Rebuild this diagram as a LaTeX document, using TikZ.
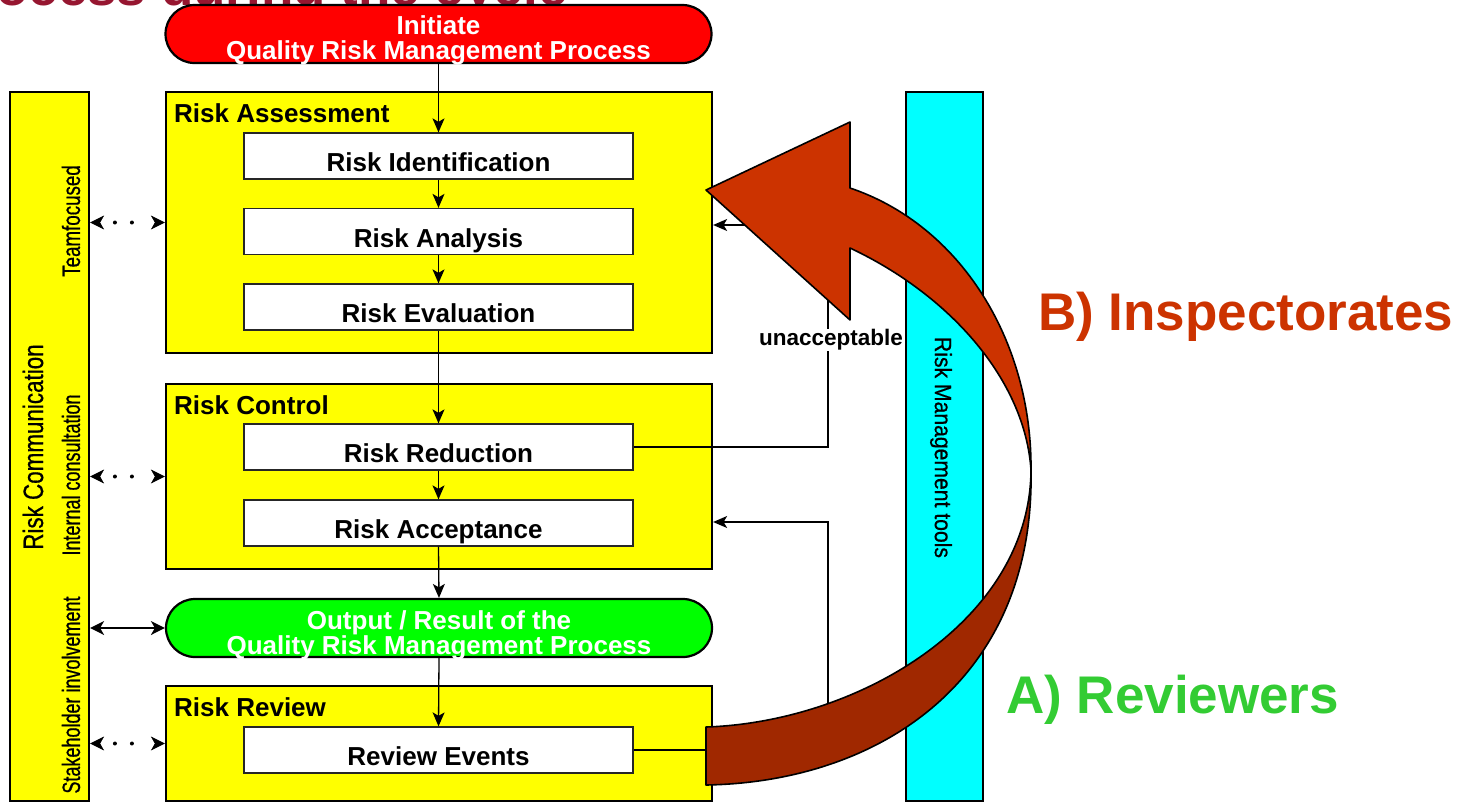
\documentclass[tikz,border=0pt]{standalone}
\usepackage{fontspec}
\setmainfont{Liberation Sans}
\newfontfamily\heavysans{Liberation Sans}[FakeBold=0.7]
\usetikzlibrary{arrows.meta}
\definecolor{boxyellow}{RGB}{255,255,0}
\definecolor{toolcyan}{RGB}{0,255,255}
\definecolor{startred}{RGB}{255,0,0}
\definecolor{endgreen}{RGB}{0,255,0}
\definecolor{titlered}{RGB}{150,22,48}
\definecolor{arrowlight}{RGB}{204,51,0}
\definecolor{arrowdark}{RGB}{160,40,0}
\definecolor{insptext}{RGB}{204,51,0}
\definecolor{revtext}{RGB}{51,204,51}
\begin{document}
\begin{tikzpicture}[x=1pt,y=-1pt,
  group/.style={draw=black, line width=2.2pt, fill=boxyellow, minimum width=546pt, inner sep=0pt},
  grouptitle/.style={anchor=base west, inner sep=0pt, font=\fontsize{26}{26}\selectfont\bfseries},
  stepbox/.style={draw=black!85, line width=1.3pt, fill=white, minimum width=389pt, minimum height=46pt, inner sep=0pt,
    text height=31pt, text depth=0pt, font=\fontsize{26}{26}\selectfont\bfseries},
  terminal/.style={draw=black, line width=2.2pt, rounded corners=29pt, minimum width=546pt, minimum height=58pt, inner sep=0pt},
  termtext/.style={inner sep=0pt, text=white, align=center, font=\fontsize{26}{25}\selectfont\bfseries},
  sidebar/.style={draw=black, line width=2.2pt, minimum height=709pt, inner sep=0pt},
  sidetext/.style={inner sep=0pt, font=\heavysans\fontsize{25}{25}\selectfont},
  flow/.style={line width=1.3pt, -{Stealth[length=14pt,width=12pt,inset=3.5pt]}},
  dotarrow/.style={line width=4pt, line cap=round, dash pattern=on 0pt off 17pt on 0pt off 60pt, dash phase=62pt,
    {Stealth[length=14pt,width=14pt,inset=4pt,line width=0.5pt]}-{Stealth[length=14pt,width=14pt,inset=4pt,line width=0.5pt]}},
  solidarrow/.style={line width=1.5pt,
    {Stealth[length=14pt,width=14pt,inset=4pt]}-{Stealth[length=14pt,width=14pt,inset=4pt]}},
  bigarrow/.style={draw=black, line width=1.6pt, line join=round}
]
\useasboundingbox (0,0) rectangle (1472,804);
\clip (0,0) rectangle (1472,804);
\fill[white] (0,0) rectangle (1472,804);

% heading, cut at the top edge
\node[anchor=base west, inner sep=0pt, text=titlered, font=\fontsize{53}{53}\selectfont\bfseries] (heading) at (-4,5) {ocess during the cycle};

% side bars
\node[sidebar, fill=boxyellow, minimum width=79pt] (comm) at (49.5,446.5) {};
\node[sidetext, rotate=90, font=\heavysans\fontsize{28}{28}\selectfont] (commtxt) at (33,447) {\scalebox{0.8}[1]{Risk Communication}};
\node[sidetext, rotate=90] (team) at (71,221) {\scalebox{0.75}[1]{Teamfocused}};
\node[sidetext, rotate=90] (intern) at (71,475) {\scalebox{0.72}[1]{Internal consultation}};
\node[sidetext, rotate=90] (stake) at (71,695) {\scalebox{0.72}[1]{Stakeholder involvement}};

% process groups
\node[group, minimum height=261pt] (rabox) at (439,222.5) {};
\node[group, minimum height=185pt] (rcbox) at (439,476.5) {};
\node[group, minimum height=115pt] (rvbox) at (439,743.5) {};
\node[grouptitle] (ratitle) at (174,122) {Risk Assessment};
\node[grouptitle] (rctitle) at (174,414) {Risk Control};
\node[grouptitle] (rvtitle) at (174,716) {Risk Review};

% steps
\node[stepbox] (ri) at (438.5,156) {Risk Identification};
\node[stepbox] (ran) at (438.5,231.5) {Risk Analysis};
\node[stepbox] (rev) at (438.5,307) {Risk Evaluation};
\node[stepbox] (rr) at (438.5,447) {Risk Reduction};
\node[stepbox] (racc) at (438.5,523) {Risk Acceptance};
\node[stepbox] (revents) at (438.5,750) {Review Events};

% start and end
\node[terminal, fill=startred] (init) at (438.5,34) {};
\node[termtext] (inittxt) at (438.5,40) {Initiate\\Quality Risk Management Process};
\node[terminal, fill=endgreen] (out) at (439,628) {};
\node[termtext] (outtxt) at (439,635) {Output / Result of the\\Quality Risk Management Process};

% main flow
\draw[flow] (init.south) -- (ri.north);
\draw[flow] (ri.south) -- (ran.north);
\draw[flow] (ran.south) -- (rev.north);
\draw[flow] (rev.south) -- (rr.north);
\draw[flow] (rr.south) -- (racc.north);
\draw[flow] (racc.south) -- (out.north);
\draw[flow] (out.south) -- (revents.north);

% feedback loops
\coordinate (loop1) at (828,225);
\coordinate (loop2) at (828,522);
\draw[flow] (rr.east) -| (loop1) -- (rabox.east |- loop1);
\draw[flow] (revents.east) -| (loop2) -- (rcbox.east |- loop2);
\node[fill=white, inner sep=1pt, font=\fontsize{22.5}{22.5}\selectfont\bfseries] (unacc) at (831,340) {unacceptable};

% communication links
\draw[dotarrow] (comm.east |- rabox.west) -- (rabox.west);
\draw[dotarrow] (comm.east |- rcbox.west) -- (rcbox.west);
\draw[dotarrow] (comm.east |- rvbox.west) -- (rvbox.west);
\draw[solidarrow] (comm.east |- out.west) -- (out.west);

% tools bar
\node[sidebar, fill=toolcyan, minimum width=77pt] (tools) at (944.5,446.5) {};
\node[sidetext, rotate=-90, font=\heavysans\fontsize{23.5}{23.5}\selectfont] (toolstxt) at (941,447.5) {\scalebox{0.9}[1]{Risk Management tools}};

% large curved arrow
\fill[arrowdark, bigarrow] (706,727) .. controls (860,722) and (1030,620) .. (1031,470)
  .. controls (1035,680) and (880,782) .. (706,785) -- cycle;
\fill[arrowlight, bigarrow] (1031,470) .. controls (1025,380) and (950,295) .. (850,248)
  -- (850,320) -- (706,190) -- (850,122) -- (850,188)
  .. controls (960,225) and (1032,340) .. (1031,470) -- cycle;

% audiences
\node[anchor=base west, inner sep=0pt, text=insptext, font=\fontsize{53}{53}\selectfont\bfseries] (insp) at (1038,330) {B) Inspectorates};
\node[anchor=base west, inner sep=0pt, text=revtext, font=\fontsize{53}{53}\selectfont\bfseries] (reviewers) at (1006,713) {A) Reviewers};
\end{tikzpicture}
\end{document}
